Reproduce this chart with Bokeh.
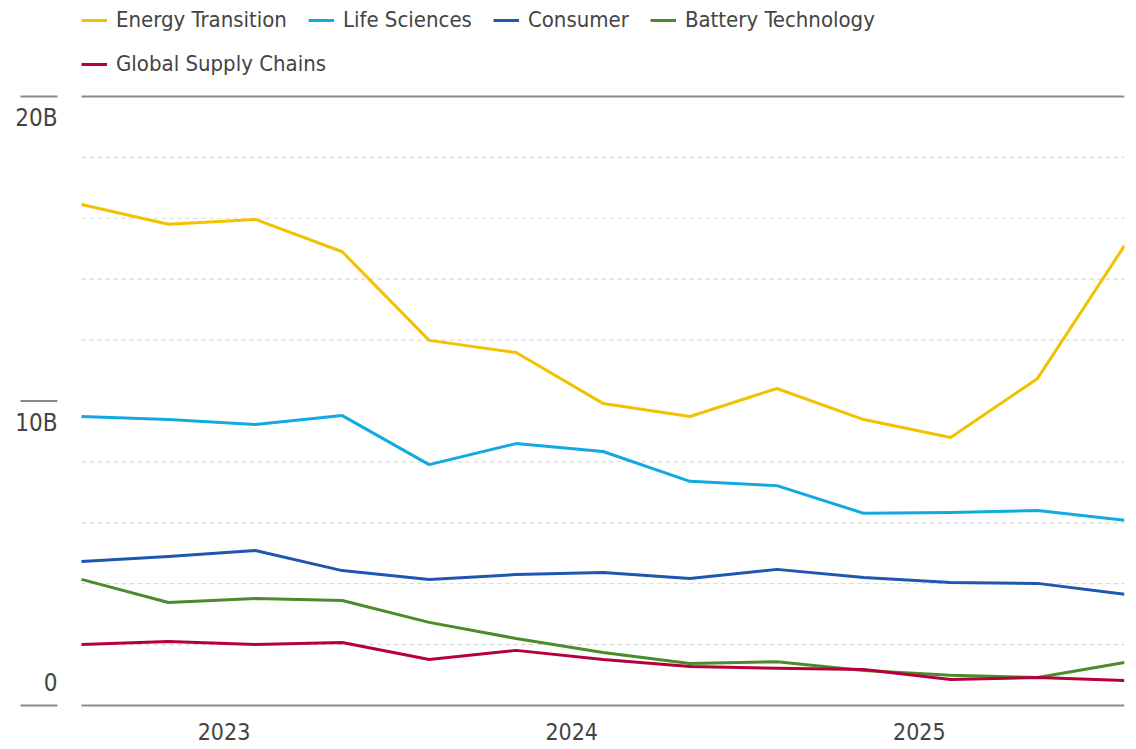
from bokeh.plotting import figure
from bokeh.models import Range1d, Legend, LegendItem, FixedTicker
from bokeh.core.properties import value
from bokeh.embed import file_html
from bokeh.resources import INLINE

# ---- data (quarterly, Q3 2022 .. Q3 2025), billions ----
quarters = list(range(13))
energy_transition = [16.45, 15.8, 15.96, 14.9, 11.99, 11.59, 9.92, 9.49, 10.41, 9.39, 8.80, 10.74, 15.1]
life_sciences = [9.49, 9.39, 9.23, 9.52, 7.91, 8.60, 8.34, 7.36, 7.22, 6.31, 6.34, 6.40, 6.08]
consumer = [4.73, 4.89, 5.09, 4.43, 4.14, 4.30, 4.37, 4.17, 4.47, 4.20, 4.04, 4.01, 3.65]
battery_technology = [4.14, 3.38, 3.51, 3.45, 2.73, 2.20, 1.74, 1.38, 1.44, 1.15, 0.99, 0.92, 1.41]
global_supply_chains = [2.00, 2.10, 2.00, 2.07, 1.51, 1.81, 1.51, 1.28, 1.22, 1.18, 0.85, 0.92, 0.82]

series_names = ["Energy Transition", "Life Sciences", "Consumer", "Battery Technology", "Global Supply Chains"]
series_values = [energy_transition, life_sciences, consumer, battery_technology, global_supply_chains]
series_colors = ["#F2C200", "#12A9E1", "#1F56B0", "#4C8B2B", "#B5003C"]

year_ticks = [1.64, 5.64, 9.64]
year_labels = ["2023", "2024", "2025"]
grid_values = [2, 4, 6, 8, 12, 14, 16, 18]
frame_values = [0, 20]
label_line_values = [0, 10, 20]
top_label_values = [20, 10]
top_labels = ["20B", "10B"]
bottom_label_values = [0]
bottom_labels = ["0"]

FONT = "Liberation Sans Narrow, DejaVu Sans Condensed, Roboto, sans-serif"
TEXT_COLOR = "#444444"

X_START = -0.9319
p = figure(width=1136, height=749, output_backend="svg", toolbar_location=None,
           x_range=Range1d(X_START, 12), y_range=Range1d(-0.0657, 23.15),
           min_border_left=0, min_border_right=12, min_border_top=0, min_border_bottom=42,
           y_axis_location=None)
p.outline_line_color = None
p.xgrid.visible = False
p.ygrid.visible = False

# x axis with year labels
ax = p.xaxis[0]
ax.ticker = FixedTicker(ticks=year_ticks)
ax.major_label_overrides = {t: l for t, l in zip(year_ticks, year_labels)}
ax.axis_line_color = None
ax.major_tick_line_color = None
ax.minor_tick_line_color = None
ax.major_tick_out = 0
ax.major_label_standoff = 15
ax.major_label_text_font = FONT
ax.major_label_text_font_size = "23px"
ax.major_label_text_color = TEXT_COLOR

x0 = quarters[0]
x1 = quarters[-1]

# dashed gridlines
p.segment(x0=[x0] * len(grid_values), x1=[x1] * len(grid_values), y0=grid_values, y1=grid_values,
          line_color="#d6d6d6", line_width=1.2, line_dash="4 4")
# solid top/bottom lines
p.segment(x0=[x0] * len(frame_values), x1=[x1] * len(frame_values), y0=frame_values, y1=frame_values,
          line_color="#8a8a8a", line_width=2)
# short lines at left next to the value labels
lab_left = -0.7018
lab_right = -0.276
n = len(label_line_values)
p.segment(x0=[lab_left] * n, x1=[lab_right] * n, y0=label_line_values, y1=label_line_values,
          line_color="#8a8a8a", line_width=2)

p.text(x=[lab_right] * len(top_labels), y=top_label_values, text=top_labels, text_align="right",
       text_baseline="top", y_offset=8, text_font=value(FONT), text_font_size="24px",
       text_color=TEXT_COLOR)
p.text(x=[lab_right], y=bottom_label_values, text=bottom_labels, text_align="right",
       text_baseline="alphabetic", y_offset=-23, text_font=value(FONT), text_font_size="24px",
       text_color=TEXT_COLOR)

renderers = []
for name, vals, col in zip(series_names, series_values, series_colors):
    r = p.line(quarters, vals, line_color=col, line_width=3, line_join="round")
    renderers.append(r)

def make_legend(items, loc):
    return Legend(items=items, location=loc, orientation="horizontal",
                  glyph_width=26, glyph_height=20, label_standoff=9, spacing=21,
                  padding=0, margin=0, border_line_color=None, background_fill_alpha=0,
                  label_text_font=FONT, label_text_font_size="22px",
                  label_text_color=TEXT_COLOR, label_height=20)

items1 = [LegendItem(label=n, renderers=[r]) for n, r in zip(series_names[:4], renderers[:4])]
items2 = [LegendItem(label=series_names[4], renderers=[renderers[4]])]
p.add_layout(make_legend(items1, (81, 675)))
p.add_layout(make_legend(items2, (81, 631)))

open("out.html", "w").write(file_html(p, INLINE))
